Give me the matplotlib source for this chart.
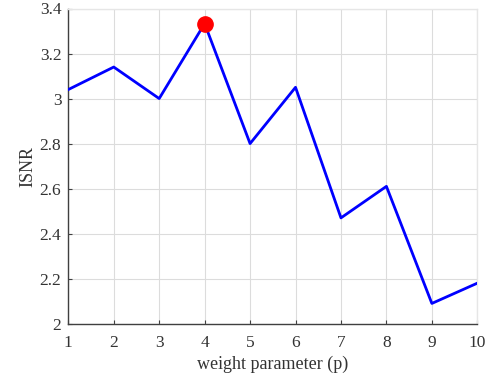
import matplotlib
matplotlib.use("Agg")
import matplotlib.pyplot as plt

p = [1, 2, 3, 4, 5, 6, 7, 8, 9, 10]
isnr = [3.04, 3.14, 3.00, 3.333, 2.80, 3.05, 2.47, 2.61, 2.09, 2.18]
best_idx = 3
yticks = [2, 2.2, 2.4, 2.6, 2.8, 3, 3.2, 3.4]
yticklabels = ["2", "2.2", "2.4", "2.6", "2.8", "3", "3.2", "3.4"]

plt.rcParams['font.family'] = ['Liberation Serif', 'DejaVu Serif']
fig = plt.figure(figsize=(4.99, 3.83), dpi=100)
ax = fig.add_axes([68.3/499, 1 - 323.7/383, (477.3-68.3)/499, (323.7-8.5)/383])

ax.plot(p, isnr, color='#0000ff', lw=2.0, zorder=3)
ax.plot(p[best_idx], isnr[best_idx], 'o', color='#ff0000', ms=11, zorder=4)

ax.set_xlim(1, 10)
ax.set_ylim(2, 3.4)
ax.set_xticks(p)
ax.set_yticks(yticks)
ax.set_yticklabels(yticklabels)
ax.grid(True, color='#dcdcdc', lw=0.8)
ax.set_axisbelow(True)
ax.tick_params(direction='in', length=3, width=0.8, colors='#404040', labelsize=12.5, labelcolor='#333333')
ax.tick_params(axis='x', pad=8)
ax.tick_params(axis='y', pad=5)
for s in ['left', 'bottom']:
    ax.spines[s].set_color('#404040')
    ax.spines[s].set_linewidth(1.0)
for s in ['top', 'right']:
    ax.spines[s].set_color('#e6e6e6')
    ax.spines[s].set_linewidth(1.0)
ax.set_xlabel('weight parameter (p)', fontsize=13, color='#333333', labelpad=3.5)
ax.set_ylabel('ISNR', fontsize=13, color='#333333', labelpad=2.5)

fig.savefig('out.png', dpi=100)
